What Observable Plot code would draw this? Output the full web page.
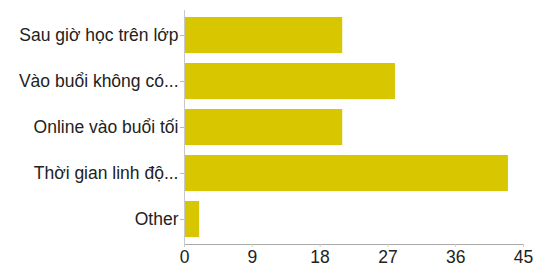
<!DOCTYPE html>
<html>
<head>
<meta charset="utf-8">
<script src="https://cdn.jsdelivr.net/npm/d3@7"></script>
<script src="https://cdn.jsdelivr.net/npm/@observablehq/plot@0.6"></script>
<style>
  html, body { margin: 0; padding: 0; background: #fff; }
  #chart svg { display: block; }
</style>
</head>
<body>
<div id="chart"></div>
<script>
const categories = ["Sau giờ học trên lớp", "Vào buổi không có...", "Online vào buổi tối", "Thời gian linh độ...", "Other"];
const values = [21, 28, 21, 43, 2];
const xTicks = [0, 9, 18, 27, 36, 45];

const data = categories.map((c, i) => ({category: c, value: values[i]}));

const chart = Plot.plot({
  width: 536,
  height: 267,
  marginLeft: 184,
  marginRight: 13,
  marginTop: 10,
  marginBottom: 23,
  style: {fontFamily: "Liberation Sans, Arial, sans-serif", fontSize: "17.5px", color: "#222", background: "#fff"},
  x: {domain: [0, 45], ticks: xTicks, label: null},
  y: {domain: categories, label: null, paddingInner: 0.22, paddingOuter: 0.153},
  marks: [
    Plot.barX(data, {x: "value", y: "category", fill: "#d8c700"}),
    Plot.frame({anchor: "left", stroke: "#c8c8c8"}),
    Plot.frame({anchor: "bottom", stroke: "#aaa"}),
    Plot.axisX({ticks: xTicks, tickSize: 3, tickPadding: 3, stroke: "#ccc", fill: "#222", fontSize: 17.5, label: null}),
    Plot.axisY({tickSize: 4, tickPadding: 2, stroke: "#bbb", fill: "#222", fontSize: 17.5, label: null})
  ]
});
document.getElementById("chart").append(chart);
</script>
</body>
</html>
